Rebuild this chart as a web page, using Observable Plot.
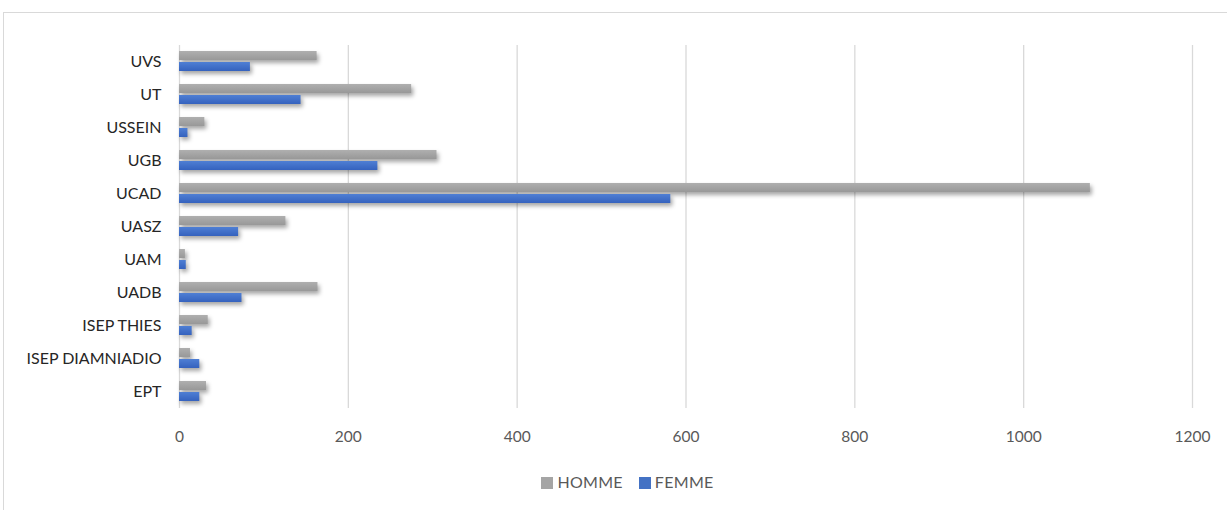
<!DOCTYPE html>
<html>
<head>
<meta charset="utf-8">
<script src="https://cdn.jsdelivr.net/npm/d3@7"></script>
<script src="https://cdn.jsdelivr.net/npm/@observablehq/plot@0.6"></script>
<style>
  body { margin: 0; background: #fff; font-family: Lato, "Open Sans", sans-serif; }
  #wrap { position: relative; width: 1227px; height: 510px; overflow: hidden; }
  #frame { position: absolute; left: 3px; top: 12px; width: 1240px; height: 520px; border: 1px solid #d9d9d9; box-sizing: border-box; }
  #chart { position: absolute; left: 0; top: 0; }
  #chart svg { display: block; }
  #chart g[aria-label="bar"] { filter: drop-shadow(2px 3px 2px rgba(0,0,0,0.35)); }
  #legend { position: absolute; top: 472px; left: 0; width: 1227px; text-align: center; font-size: 16px; letter-spacing: 0.3px; color: #595959; padding-left: 28px; box-sizing: border-box; }
  #legend span.sw { display: inline-block; width: 12px; height: 12px; margin-right: 4px; vertical-align: -1px; }
  #legend span.item { margin: 0 8px; }
</style>
</head>
<body>
<div id="wrap">
  <div id="frame"></div>
  <div id="chart"></div>
  <div id="legend"></div>
</div>
<script>
const categories = ["UVS", "UT", "USSEIN", "UGB", "UCAD", "UASZ", "UAM", "UADB", "ISEP THIES", "ISEP DIAMNIADIO", "EPT"];
const homme = [163, 275, 30, 305, 1079, 126, 7, 164, 34, 13, 32];
const femme = [84, 144, 10, 235, 582, 70, 8, 74, 15, 24, 24];
const series = ["HOMME", "FEMME"];
const colors = ["#A5A5A5", "#4472C4"];
const xTicks = [0, 200, 400, 600, 800, 1000, 1200];

const rows = [];
categories.forEach((c, i) => {
  rows.push({cat: c, serie: "HOMME", value: homme[i]});
  rows.push({cat: c, serie: "FEMME", value: femme[i]});
});

const chart = Plot.plot({
  width: 1227,
  height: 455,
  marginLeft: 179,
  marginRight: 35,
  marginTop: 41,
  marginBottom: 43,
  style: {fontFamily: "Lato, 'Open Sans', sans-serif", background: "transparent", overflow: "visible"},
  x: {domain: [0, 1200], ticks: xTicks, label: null},
  fy: {domain: categories, padding: 0, label: null},
  y: {domain: series, paddingInner: 0.17, paddingOuter: 0.55, axis: null},
  color: {domain: series, range: ["url(#gGray)", "url(#gBlue)"]},
  facet: {data: rows, y: "cat"},
  marks: [
    Plot.gridX(xTicks, {stroke: "#d9d9d9", strokeOpacity: 1, strokeWidth: 1.3}),
    Plot.barX(rows, {x: "value", y: "serie", fill: "serie"}),
    Plot.axisX({ticks: xTicks, tickFormat: d => String(d), tickSize: 0, tickPadding: 22, fontSize: 15.5, color: "#595959", label: null, facetAnchor: "bottom"}),
    Plot.axisFy({anchor: "left", tickSize: 0, tickPadding: 18, fontSize: 16, color: "#262626", label: null})
  ]
});

// gradients for bar fills
const svg = d3.select(chart);
const defs = svg.insert("defs", ":first-child");
const g1 = defs.append("linearGradient").attr("id", "gGray").attr("x1", 0).attr("y1", 0).attr("x2", 0).attr("y2", 1);
g1.append("stop").attr("offset", "0%").attr("stop-color", "#AFAFAF");
g1.append("stop").attr("offset", "100%").attr("stop-color", "#989898");
const g2 = defs.append("linearGradient").attr("id", "gBlue").attr("x1", 0).attr("y1", 0).attr("x2", 0).attr("y2", 1);
g2.append("stop").attr("offset", "0%").attr("stop-color", "#4F7FD4");
g2.append("stop").attr("offset", "100%").attr("stop-color", "#3562BE");

document.getElementById("chart").appendChild(chart);

const legend = document.getElementById("legend");
series.forEach((s, i) => {
  const item = document.createElement("span");
  item.className = "item";
  const sw = document.createElement("span");
  sw.className = "sw";
  sw.style.background = colors[i];
  item.appendChild(sw);
  item.appendChild(document.createTextNode(s));
  legend.appendChild(item);
});
</script>
</body>
</html>
